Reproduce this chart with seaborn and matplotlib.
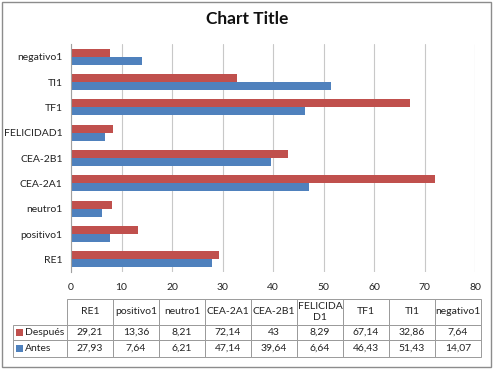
import numpy as np
import pandas as pd
import matplotlib
matplotlib.use('Agg')
import matplotlib.pyplot as plt
import seaborn as sns
from matplotlib.patches import Rectangle

categories = ['RE1', 'positivo1', 'neutro1', 'CEA-2A1', 'CEA-2B1', 'FELICIDAD1', 'TF1', 'TI1', 'negativo1']
table_headers = ['RE1', 'positivo1', 'neutro1', 'CEA-2A1', 'CEA-2B1', 'FELICIDA\nD1', 'TF1', 'TI1', 'negativo1']
despues = [29.21, 13.36, 8.21, 72.14, 43, 8.29, 67.14, 32.86, 7.64]
antes = [27.93, 7.64, 6.21, 47.14, 39.64, 6.64, 46.43, 51.43, 14.07]
series_names = ['Después', 'Antes']
series_colors = ['#C0504D', '#4F81BD']
x_ticks = [0, 10, 20, 30, 40, 50, 60, 70, 80]

sns.set_style('white')
plt.rcParams['font.family'] = ['Lato', 'DejaVu Sans']

df = pd.DataFrame({
    'cat': categories * 2,
    'value': despues + antes,
    'serie': [series_names[0]] * len(categories) + [series_names[1]] * len(categories),
})

W, H = 494, 369
fig = plt.figure(figsize=(W / 100, H / 100), dpi=100)
fig.patches.append(Rectangle((2 / W, 2 / H), 489 / W, 365 / H, transform=fig.transFigure,
                             fill=False, edgecolor='#8c8c8c', linewidth=1.0))

ax = fig.add_axes([71 / W, 1 - 272 / H, (475 - 71) / W, (272 - 44) / H])
sns.barplot(data=df, y='cat', x='value', hue='serie', orient='h',
            order=categories[::-1], hue_order=series_names,
            palette=series_colors, width=0.62, saturation=1, linewidth=0,
            ax=ax, legend=False)

ax.set_xlim(0, 80)
ax.set_xticks(x_ticks)
ax.tick_params(axis='x', labelsize=7.5, length=0, pad=8, colors='#222222')
ax.tick_params(axis='y', labelsize=7.5, length=0, pad=6, colors='#222222')
ax.set_xlabel('')
ax.set_ylabel('')
ax.grid(axis='x', color='#c8c8c8', linewidth=0.8)
ax.set_axisbelow(True)
for s in ['top', 'right', 'bottom']:
    ax.spines[s].set_visible(False)
ax.spines['left'].set_color('#a0a0a0')
ax.spines['left'].set_linewidth(0.8)

fig.text(0.5, 1 - 19 / H, 'Chart Title', ha='center', va='center',
         fontsize=12.5, fontweight='bold', color='#111111')

# data table under the chart
fmt = lambda v: f'{v:g}'.replace('.', ',')
rows = [[''] + table_headers,
        [''] + [fmt(v) for v in despues],
        [''] + [fmt(v) for v in antes]]

tax = fig.add_axes([13 / W, 1 - 357 / H, (481 - 13) / W, (357 - 299) / H])
tax.axis('off')
col_w = [54] + [46] * len(categories)
tbl = tax.table(cellText=rows, cellLoc='center', colWidths=col_w, bbox=[0, 0, 1, 1])
tbl.auto_set_font_size(False)
row_h = [26, 15, 17]
for (r, c), cell in tbl.get_celld().items():
    cell.set_height(row_h[r])
    cell.set_edgecolor('#9a9a9a')
    cell.set_linewidth(0.7)
    cell.get_text().set_fontsize(7.5)
    cell.get_text().set_color('#222222')
    if r == 0 and c == 0:
        cell.visible_edges = ''

# row labels with legend keys
for i, color in enumerate(series_colors):
    yc = [332.5, 348.5][i]
    fig.patches.append(Rectangle((16 / W, 1 - (yc + 3.5) / H), 7 / W, 7 / H,
                                 transform=fig.transFigure, facecolor=color, edgecolor='none'))
    fig.text(25 / W, 1 - yc / H, series_names[i], ha='left', va='center',
             fontsize=7.5, color='#222222')

fig.savefig('out.png', dpi=100)
